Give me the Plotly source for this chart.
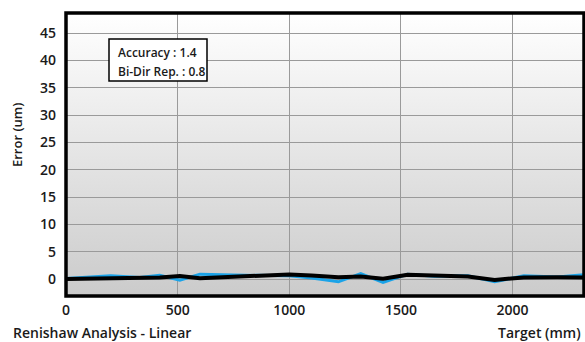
import base64
import plotly.graph_objects as go

# Data
target_mm = [0, 200, 330, 420, 510, 600, 800, 1000, 1100, 1220, 1320, 1420, 1530, 1650, 1800, 1920, 2050, 2200, 2320]
error_run = [0.1, 0.6, 0.3, 0.7, -0.2, 0.9, 0.7, 0.6, 0.2, -0.5, 1.0, -0.6, 0.9, 0.5, 0.6, -0.5, 0.6, 0.4, 0.8]
error_mean = [0.0, 0.2, 0.15, 0.3, 0.55, 0.15, 0.5, 0.85, 0.65, 0.35, 0.45, 0.05, 0.8, 0.6, 0.45, -0.15, 0.3, 0.35, 0.3]
x_ticks = [0, 500, 1000, 1500, 2000]
y_ticks = [0, 5, 10, 15, 20, 25, 30, 35, 40, 45]
accuracy = 1.4
bidir_rep = 0.8

FONT = "Open Sans"
W, H = 585, 342
ML, MR, MT, MB = 66, 1, 13, 46
PW, PH = W - ML - MR, H - MT - MB


def px_x(x):
    return (x - ML) / PW


def px_y(y):
    return 1 - (y - MT) / PH


svg = ('<svg xmlns="http://www.w3.org/2000/svg" width="100" height="100" preserveAspectRatio="none">'
       '<defs><linearGradient id="g" x1="0" y1="0" x2="0" y2="1">'
       '<stop offset="0" stop-color="#ffffff"/><stop offset="1" stop-color="#cbcbcb"/>'
       '</linearGradient></defs><rect width="100" height="100" fill="url(#g)"/></svg>')
bg_uri = "data:image/svg+xml;base64," + base64.b64encode(svg.encode()).decode()

fig = go.Figure()
fig.add_trace(go.Scatter(x=target_mm, y=error_run, mode="lines",
                         line=dict(color="#1aa3e8", width=3), hoverinfo="skip"))
fig.add_trace(go.Scatter(x=target_mm, y=error_mean, mode="lines",
                         line=dict(color="#000000", width=4), hoverinfo="skip"))

tickfont = dict(family=FONT, size=14, weight=600, color="#1a1a1a")
fig.update_layout(
    width=W, height=H,
    margin=dict(l=ML, r=MR, t=MT, b=MB, pad=0),
    paper_bgcolor="white",
    plot_bgcolor="rgba(0,0,0,0)",
    showlegend=False,
    font=dict(family=FONT, size=13, color="#1a1a1a"),
    xaxis=dict(range=[0, 2320], tickvals=x_ticks, showgrid=True, gridcolor="#9a9a9a",
               gridwidth=1.2, zeroline=False, showline=False, ticks="",
               ticklabelstandoff=4, tickfont=tickfont),
    yaxis=dict(range=[-3.1, 48.7], tickvals=y_ticks, showgrid=True, gridcolor="#9a9a9a",
               gridwidth=1.2, zeroline=False, showline=False, ticks="",
               ticklabelstandoff=9, tickfont=tickfont),
    images=[dict(source=bg_uri, xref="paper", yref="paper", x=0, y=1, sizex=1, sizey=1,
                 xanchor="left", yanchor="top", sizing="stretch", layer="below")],
    shapes=[
        dict(type="rect", xref="paper", yref="paper", x0=0, x1=1, y0=0, y1=1,
             line=dict(color="black", width=3.5), layer="above"),
        dict(type="rect", xref="paper", yref="paper", x0=px_x(109), x1=px_x(207),
             y0=px_y(81), y1=px_y(39), fillcolor="white",
             line=dict(color="black", width=1.5), layer="above"),
    ],
)

labfont = dict(family=FONT, size=14, weight=600, color="#1a1a1a")
fig.add_annotation(text="Error (um)", xref="paper", yref="paper",
                   x=px_x(17), y=px_y(135),
                   textangle=-90, showarrow=False, xanchor="center", yanchor="middle",
                   font=dict(family=FONT, size=13, weight=600, color="#1a1a1a"))
fig.add_annotation(text="Renishaw Analysis - Linear", xref="paper", yref="paper",
                   x=px_x(11), y=px_y(332), showarrow=False, xanchor="left", yanchor="middle",
                   font=labfont)
fig.add_annotation(text="Target (mm)", xref="paper", yref="paper",
                   x=px_x(583), y=px_y(332), showarrow=False, xanchor="right", yanchor="middle",
                   font=labfont)
boxfont = dict(family=FONT, size=12, weight=600, color="#1a1a1a")
fig.add_annotation(text=f"Accuracy : {accuracy}", xref="paper", yref="paper",
                   x=px_x(116), y=px_y(52.5), showarrow=False, xanchor="left", yanchor="middle",
                   font=boxfont)
fig.add_annotation(text=f"Bi-Dir Rep. : {bidir_rep}", xref="paper", yref="paper",
                   x=px_x(116), y=px_y(71.5), showarrow=False, xanchor="left", yanchor="middle",
                   font=boxfont)

fig.write_html("out.html", config={"displayModeBar": False},
               post_script="document.body.style.margin='0';")
